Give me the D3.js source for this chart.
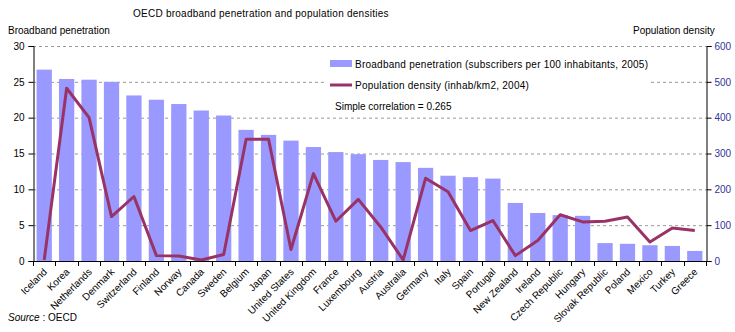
<!DOCTYPE html>
<html><head><meta charset="utf-8">
<script src="https://cdn.jsdelivr.net/npm/d3@7"></script>
<style>
body{margin:0;background:#fff;}
text{font-family:"Liberation Sans",Arial,sans-serif;font-size:10px;}
</style></head>
<body><svg id="c" width="735" height="332"></svg>
<script>
const countries = ["Iceland","Korea","Netherlands","Denmark","Switzerland","Finland","Norway","Canada","Sweden","Belgium","Japan","United States","United Kingdom","France","Luxembourg","Austria","Australia","Germany","Italy","Spain","Portugal","New Zealand","Ireland","Czech Republic","Hungary","Slovak Republic","Poland","Mexico","Turkey","Greece"];
const broadband = [26.7,25.4,25.3,25.0,23.1,22.5,21.9,21.0,20.3,18.3,17.6,16.8,15.9,15.2,14.9,14.1,13.8,13.0,11.9,11.7,11.5,8.1,6.7,6.4,6.3,2.5,2.4,2.2,2.1,1.4];
const density = [3,482,400,124,180,15,14,3,18,340,340,32,244,111,172,95,3,231,193,85,113,15,57,129,109,111,123,53,92,85];
const leftTicks = [0,5,10,15,20,25,30];
const rightTicks = [0,100,200,300,400,500,600];

const svg = d3.select("#c");
const L = 33, R = 706, T = 46, B = 261;
const x = d3.scaleBand().domain(countries).range([L, R]).paddingInner(0.32).paddingOuter(0.16);
const xs = d3.scaleBand().domain(countries).range([L, R]);
const yL = d3.scaleLinear().domain([0,30]).range([B, T]);
const yR = d3.scaleLinear().domain([0,600]).range([B, T]);

// gridlines
svg.append("g").selectAll("line").data(leftTicks.filter(d=>d>0)).join("line")
  .attr("x1", L).attr("x2", R).attr("y1", d=>yL(d)+0.5).attr("y2", d=>yL(d)+0.5)
  .attr("stroke", "#999").attr("stroke-dasharray", "3,3");

// bars
svg.append("g").selectAll("rect").data(countries).join("rect")
  .attr("x", d=>x(d)).attr("width", x.bandwidth())
  .attr("y", (d,i)=>yL(broadband[i])).attr("height", (d,i)=>B - yL(broadband[i]))
  .attr("fill", "#9999FF");

// line
const line = d3.line().x((d,i)=>xs(countries[i]) + xs.bandwidth()/2).y(d=>yR(d));
svg.append("path").datum(density).attr("d", line)
  .attr("fill", "none").attr("stroke", "#993366").attr("stroke-width", 3).attr("stroke-linejoin","round");

// axes
const axL = d3.axisLeft(yL).tickValues(leftTicks).tickSize(5).tickPadding(4);
const gL = svg.append("g").attr("transform", `translate(${L+0.5},0)`).call(axL);
gL.select(".domain").attr("stroke","#000");
gL.selectAll("text").attr("fill","#000").style("font-size","10px").style("font-family","Liberation Sans, Arial, sans-serif");

const axR = d3.axisRight(yR).tickValues(rightTicks).tickSize(5).tickPadding(3);
const gR = svg.append("g").attr("transform", `translate(${R+0.5},0)`).call(axR);
gR.selectAll("text").attr("fill","#333399").style("font-size","10px").style("font-family","Liberation Sans, Arial, sans-serif");

// x axis
svg.append("line").attr("x1", L).attr("x2", R).attr("y1", B+0.5).attr("y2", B+0.5).attr("stroke","#000");
svg.append("g").selectAll("line").data(countries.concat(["__end"])).join("line")
  .attr("x1", (d,i)=>Math.round(L + i*xs.step())+0.5).attr("x2", (d,i)=>Math.round(L + i*xs.step())+0.5)
  .attr("y1", B).attr("y2", B+5).attr("stroke","#000");
svg.append("g").selectAll("text").data(countries).join("text")
  .attr("transform", d=>`translate(${xs(d)+xs.bandwidth()/2+1},${B+9}) rotate(-45)`)
  .attr("text-anchor","end").attr("dy","0.35em").attr("fill","#000").text(d=>d);

// legend box
svg.append("rect").attr("x",326).attr("y",52).attr("width",325).attr("height",42).attr("fill","#fff");
const lx = 330;
svg.append("rect").attr("x", lx).attr("y", 60).attr("width", 22).attr("height", 7).attr("fill","#9999FF");
svg.append("text").attr("x", 355).attr("y", 67.5).text("Broadband penetration (subscribers per 100 inhabitants, 2005)").style("letter-spacing","0.25px");
svg.append("line").attr("x1", lx).attr("x2", lx+22).attr("y1", 85).attr("y2", 85).attr("stroke","#993366").attr("stroke-width",3);
svg.append("text").attr("x", 355).attr("y", 88.5).text("Population density (inhab/km2, 2004)").style("letter-spacing","0.25px");
svg.append("text").attr("x", 335).attr("y", 110).text("Simple correlation = 0.265");

// titles
svg.append("text").attr("x", 133).attr("y", 17).text("OECD broadband penetration and population densities").style("letter-spacing","0.25px");
svg.append("text").attr("x", 8).attr("y", 34).text("Broadband penetration");
svg.append("text").attr("x", 633).attr("y", 34).text("Population density");
const src = svg.append("text").attr("x", 8).attr("y", 321);
src.append("tspan").style("font-style","italic").text("Source");
src.append("tspan").text(" :  OECD");
</script></body></html>
